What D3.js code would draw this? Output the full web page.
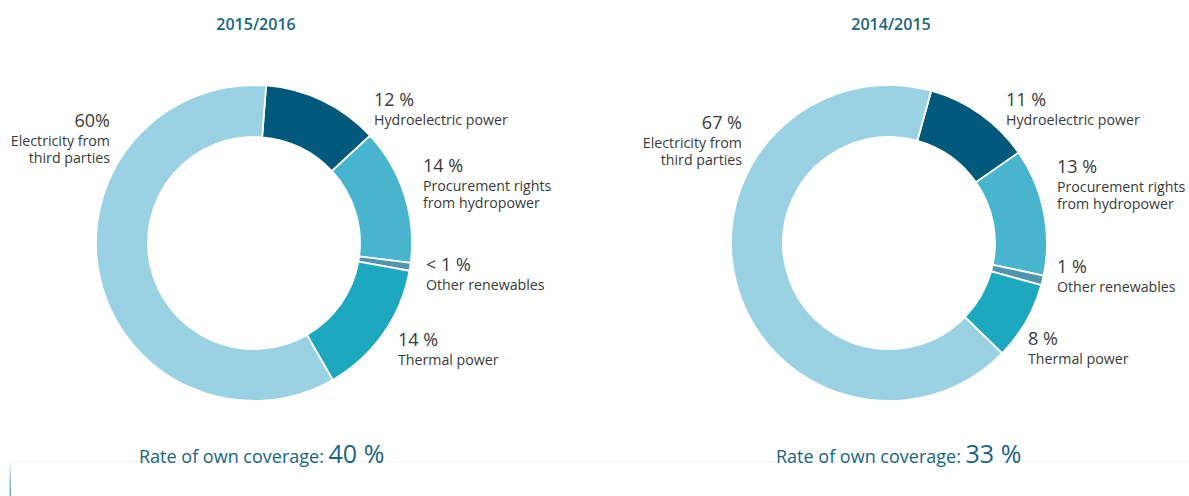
<!DOCTYPE html>
<html lang="en">
	<head>
		<meta charset="utf-8">
		<title>Electricity sources</title>
		<script src="https://d3js.org/d3.v7.min.js"></script>
		<style type="text/css">
			body { margin: 0; background: #fff; }
			text { font-family: "Open Sans", sans-serif; }
		</style>
	</head>
	<body>
		<script type="text/javascript">
			//Data
			let categories = ["Hydroelectric power", "Procurement rights\nfrom hydropower", "Other renewables", "Thermal power", "Electricity from\nthird parties"];
			let years = ["2015/2016", "2014/2015"];
			let values2016 = [12, 14, 0.8, 14, 60];
			let values2015 = [11, 13, 1, 8, 67];
			let pctLabels2016 = ["12 %", "14 %", "< 1 %", "14 %", "60%"];
			let pctLabels2015 = ["11 %", "13 %", "1 %", "8 %", "67 %"];
			let coverage = ["40 %", "33 %"];

			//Width and height
			let w = 1189;
			let h = 496;
			let outerR = 158;
			let innerR = 106;
			let colors = ["#00597a", "#48b4ce", "#4f95b0", "#1ea8bf", "#9ad2e3"];

			//Layout for each donut: centre, start angle (deg), label offsets from centre
			let layouts = [
				{ cx: 254, cy: 243, start: 4.4, coverX: 139,
				  labels: [[120, -137, "start"], [169, -71, "start"], [172, 28, "start"], [144, 103, "start"], [-144, -116, "end"]] },
				{ cx: 889, cy: 243, start: 15.5, coverX: 776,
				  labels: [[117, -137, "start"], [168, -70, "start"], [168, 30, "start"], [139, 102, "start"], [-147, -114, "end"]] }
			];
			let allValues = [values2016, values2015];
			let allPct = [pctLabels2016, pctLabels2015];

			let svg = d3.select("body")
						.append("svg")
						.attr("width", w)
						.attr("height", h);

			//Faint baseline and left accent bar
			let grad = svg.append("defs").append("linearGradient")
				.attr("id", "bar-grad").attr("x1", 0).attr("y1", 0).attr("x2", 0).attr("y2", 1);
			grad.append("stop").attr("offset", "0%").attr("stop-color", "#ffffff");
			grad.append("stop").attr("offset", "60%").attr("stop-color", "#8fbcd0");
			grad.append("stop").attr("offset", "100%").attr("stop-color", "#6ea6c0");
			svg.append("line")
				.attr("x1", 10).attr("x2", w).attr("y1", 461.5).attr("y2", 461.5)
				.attr("stroke", "#eef5f7").attr("stroke-width", 1);
			svg.append("rect")
				.attr("x", 9.5).attr("y", 461).attr("width", 1.5).attr("height", h - 461)
				.attr("fill", "url(#bar-grad)");

			let arc = d3.arc().innerRadius(innerR).outerRadius(outerR);

			layouts.forEach(function(lay, i) {
				let startRad = lay.start * Math.PI / 180;
				let pie = d3.pie()
							.sort(null)
							.startAngle(startRad)
							.endAngle(startRad + 2 * Math.PI);
				let g = svg.append("g")
						   .attr("transform", "translate(" + lay.cx + "," + lay.cy + ")");

				//Slices
				g.selectAll("path")
				 .data(pie(allValues[i]))
				 .enter()
				 .append("path")
				 .attr("d", arc)
				 .attr("fill", function(d, j) { return colors[j]; })
				 .attr("stroke", "#fff")
				 .attr("stroke-width", 1.8);

				//Labels
				let lab = g.selectAll("g.label")
						   .data(categories)
						   .enter()
						   .append("g")
						   .attr("class", "label")
						   .attr("transform", function(d, j) {
						   		return "translate(" + lay.labels[j][0] + "," + lay.labels[j][1] + ")";
						   })
						   .attr("text-anchor", function(d, j) { return lay.labels[j][2]; });
				lab.append("text")
				   .attr("fill", "#3a3a3a")
				   .style("font-size", "18px")
				   .text(function(d, j) { return allPct[i][j]; });
				lab.each(function(d) {
					let lines = d.split("\n");
					let t = d3.select(this).append("text")
							  .attr("fill", "#3a3a3a")
							  .style("font-size", "14.2px");
					lines.forEach(function(line, k) {
						t.append("tspan").attr("x", 0).attr("y", 19 + k * 17).text(line);
					});
				});

				//Title
				svg.append("text")
				   .attr("x", lay.cx + 2)
				   .attr("y", 30)
				   .attr("text-anchor", "middle")
				   .attr("fill", "#1a6482")
				   .style("font-size", "16px")
				   .style("font-weight", 600)
				   .text(years[i]);

				//Own coverage
				let cov = svg.append("text")
							 .attr("x", lay.coverX)
							 .attr("y", 463)
							 .attr("fill", "#1a6482");
				cov.append("tspan").style("font-size", "18px").text("Rate of own coverage: ");
				cov.append("tspan").style("font-size", "25px").style("font-weight", 500).text(coverage[i]);
			});
		</script>
	</body>
</html>
